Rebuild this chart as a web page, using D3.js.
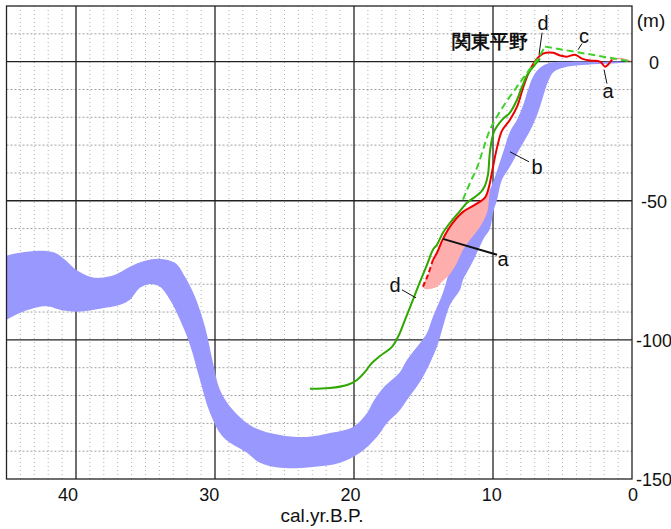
<!DOCTYPE html>
<html>
<head>
<meta charset="utf-8">
<script src="https://cdn.jsdelivr.net/npm/d3@7"></script>
<style>
  html, body { margin: 0; padding: 0; background: #fff; }
  svg { display: block; }
  text { font-family: "Liberation Sans", Arial, sans-serif; fill: #111; }
</style>
</head>
<body>
<svg id="chart" width="671" height="529"></svg>
<script>
// ---- data: [age (kyr BP), sea level (m)] ----

// b: wide band, upper / left edge and lower / right edge
const bandUpper = [
  [46, -72], [45.0, -69.8], [44.03, -68.7], [42.59, -68.0], [41.51, -68.7], [40.79, -71.2],
  [40.0, -74.8], [38.99, -77.3], [38.27, -77.7], [37.19, -76.6], [36.12, -73.7],
  [35.04, -71.6], [33.96, -70.9], [32.88, -72.3], [32.16, -77.3], [31.44, -84.5],
  [30.72, -95.3], [30.14, -108.3], [29.64, -118.0], [28.71, -125.2], [27.27, -131.3],
  [25.32, -134.2], [23.38, -134.9], [21.73, -133.5], [20.07, -131.3], [19.06, -126.3],
  [18.63, -122.3], [17.91, -117.3], [16.69, -111.5], [16.19, -107.2], [15.25, -101.1],
  [14.75, -97.5], [14.32, -91.7], [13.60, -83.1], [12.95, -72.3], [12.16, -64.0],
  [11.51, -58.6], [10.86, -53.2], [10.36, -47.8], [9.93, -42.4], [9.57, -37.1],
  [9.21, -31.7], [8.78, -25.2], [8.27, -20.9], [7.84, -15.8], [7.48, -10.1],
  [7.12, -5.4], [6.62, -2.2], [5.90, -0.4], [4.46, 0], [2.30, 0], [0.72, 0]
];
const bandLower = [
  [46, -96], [45.0, -92.8], [44.03, -90.3], [42.59, -88.1], [41.87, -88.1], [41.15, -89.2],
  [40.0, -89.9], [38.27, -88.8], [36.83, -87.4], [36.12, -85.6], [35.40, -81.3],
  [34.68, -79.9], [33.96, -80.9], [33.24, -85.6], [32.52, -92.8], [31.80, -101.8],
  [31.08, -114.4], [30.36, -126.3], [29.42, -134.9], [27.70, -140.6], [26.76, -144.2],
  [25.32, -146.0], [22.95, -145.7], [21.01, -144.2], [19.57, -140.6], [18.35, -134.9],
  [17.63, -129.9], [16.69, -125.2], [16.19, -121.6], [15.04, -113.3], [14.03, -102.5],
  [13.60, -95.3], [13.09, -87.4], [12.37, -82.0], [12.16, -78.4], [11.65, -73.7],
  [11.15, -68.7], [10.72, -64.0], [10.22, -60.1], [10.0, -54.3], [9.71, -49.6],
  [9.35, -42.4], [8.70, -37.1], [8.20, -32.4], [7.70, -28.1], [7.19, -23.4],
  [6.76, -18.3], [6.40, -12.6], [6.04, -7.2], [5.62, -3.6], [4.68, -1.8],
  [3.24, -1.1], [1.58, -0.7], [0.72, -0.4]
];
const bandCap = [[0.5, -0.2]];

// a: red curve (dashed at its lowest part) and its pink error area
const redDashed = [[15.04, -80.9], [14.68, -76.6], [14.32, -71.2]];
const redSolid = [
  [14.32, -71.2], [14.03, -68.7], [13.60, -63.7], [12.95, -58.3], [12.16, -54.0],
  [11.29, -51.4], [10.58, -48.9], [10.29, -45.0], [10.07, -39.6], [9.71, -30.9],
  [9.35, -24.8], [8.78, -20.9], [8.27, -16.2], [7.84, -9.4], [7.34, -2.9],
  [6.83, 1.1], [6.40, 2.9], [5.68, 3.2], [5.18, 2.2], [4.68, 1.8], [4.10, 2.5],
  [3.60, 1.1], [3.02, 0.4], [2.30, 0], [1.94, -1.8], [1.73, -1.1], [1.44, 0.7]
];
const redTail = [[1.44, 0.7], [0.86, 1.1], [0.07, 0]];
const pinkRight = [
  [10.22, -44.2], [10.29, -49.6], [10.43, -54.3], [10.94, -59.4], [11.65, -64.0],
  [12.16, -67.6], [12.59, -72.3], [13.09, -76.3], [13.67, -79.1], [14.17, -81.3],
  [14.89, -81.7]
];

// d: green curve
const greenD = [
  [23.17, -117.6], [21.73, -117.3], [20.50, -116.2], [19.78, -114.4], [19.21, -111.5],
  [18.71, -108.3], [18.13, -105.8], [17.27, -102.5], [16.83, -98.9], [16.33, -92.8],
  [15.76, -85.6], [15.25, -79.1], [14.75, -73.0], [14.32, -67.6], [14.03, -65.8],
  [13.60, -61.5], [13.09, -57.9], [12.37, -53.6], [11.87, -50.7], [11.29, -48.6],
  [10.86, -46.8], [10.58, -44.6], [10.36, -40.6], [10.22, -32.4], [9.93, -25.2],
  [9.35, -20.9], [8.78, -18.3], [8.27, -13.7], [7.91, -9.0], [7.48, -4.3],
  [6.98, -1.1], [6.62, 1.1]
];

// c: green dashed curve (curved rise, then straight fall to the present)
const greenC = [
  [12.16, -49.6], [11.65, -43.5], [11.15, -38.1], [10.72, -31.7], [10.22, -24.5],
  [9.28, -16.2], [8.27, -9.0], [7.55, -4.0], [6.83, 0.7], [6.26, 5.4]
];
const greenCTail = [[6.26, 5.4], [0, 0]];

// axes
const xTicks = [40, 30, 20, 10, 0];
const yTicks = [0, -50, -100, -150];

// curve labels: text, label position, leader line from -> to
const curveLabels = [
  { text: "d", at: [6.40, 11.5], line: [[6.69, 2.5], [6.47, 10.4]], w: 1 },
  { text: "c", at: [3.45, 6.8], line: [[3.88, 4.3], [3.60, 6.5]], w: 1 },
  { text: "a", at: [1.73, -12.9], line: [[2.01, -2.9], [1.80, -7.9]], w: 1 },
  { text: "b", at: [6.83, -40.3], line: [[8.78, -32.4], [7.41, -36.0]], w: 1 },
  { text: "a", at: [9.28, -73.4], line: [[13.60, -63.7], [9.71, -69.4]], w: 2 },
  { text: "d", at: [17.05, -82.7], line: [[16.55, -82.0], [15.54, -84.9]], w: 1 }
];
const regionTitle = "関東平野";
const regionAt = [10.22, 7.2];

// ---- drawing ----
const svg = d3.select("#chart");
const plotLeft = 6.5, plotRight = 632, plotTop = 6, plotBottom = 479;

const x = d3.scaleLinear().domain([45, 0]).range([plotLeft, plotRight]);
const y = d3.scaleLinear().domain([20, -150]).range([plotTop, plotBottom]);
// the printed year labels sit on a slightly wider spacing than the grid
const xLabel = d3.scaleLinear().domain([40, 0]).range([68, 633]);

svg.append("defs").append("clipPath").attr("id", "plot-clip")
    .append("rect")
    .attr("x", plotLeft).attr("y", plotTop)
    .attr("width", plotRight - plotLeft).attr("height", plotBottom - plotTop);

// minor grid
const grid = svg.append("g").attr("class", "grid");
grid.selectAll("line.vminor")
    .data(d3.range(1, 45).filter(d => d % 10 !== 0))
    .join("line")
    .attr("x1", d => x(d)).attr("x2", d => x(d))
    .attr("y1", plotTop).attr("y2", plotBottom)
    .attr("stroke", "#b0b0b0").attr("stroke-width", 1)
    .attr("stroke-dasharray", "1,3");
grid.selectAll("line.hminor")
    .data(d3.range(-140, 20, 10).filter(d => d % 50 !== 0))
    .join("line")
    .attr("x1", plotLeft).attr("x2", plotRight)
    .attr("y1", d => y(d)).attr("y2", d => y(d))
    .attr("stroke", "#a0a0a0").attr("stroke-width", 1)
    .attr("stroke-dasharray", "2,2");

// major grid
grid.selectAll("line.vmajor")
    .data(xTicks.filter(d => d > 0))
    .join("line")
    .attr("x1", d => x(d)).attr("x2", d => x(d))
    .attr("y1", plotTop).attr("y2", plotBottom)
    .attr("stroke", "#222").attr("stroke-width", 1.3);
grid.selectAll("line.hmajor")
    .data(yTicks.filter(d => d > -150))
    .join("line")
    .attr("x1", plotLeft).attr("x2", plotRight)
    .attr("y1", d => y(d)).attr("y2", d => y(d))
    .attr("stroke", "#222").attr("stroke-width", 1.3);

const plot = svg.append("g").attr("clip-path", "url(#plot-clip)");

const line = d3.line().x(d => x(d[0])).y(d => y(d[1]));
const smooth = d3.line().x(d => x(d[0])).y(d => y(d[1])).curve(d3.curveCatmullRom.alpha(0.5));
const smoothClosed = d3.line().x(d => x(d[0])).y(d => y(d[1])).curve(d3.curveCatmullRomClosed.alpha(0.5));

// b band
plot.append("path")
    .attr("d", smoothClosed(bandUpper.concat(bandCap, bandLower.slice().reverse())))
    .attr("fill", "#9898ff");

// a error area: red curve on the left, pinkRight back down
const pinkLeft = redDashed.concat(redSolid.filter(d => d[1] <= -44.2).slice(1));
plot.append("path")
    .attr("d", smoothClosed(pinkLeft.concat(pinkRight)))
    .attr("fill", "#ffaeae");

// a red
plot.append("path").attr("d", smooth(redSolid))
    .attr("fill", "none").attr("stroke", "#ee0000").attr("stroke-width", 2);
plot.append("path").attr("d", smooth(redDashed))
    .attr("fill", "none").attr("stroke", "#ee0000").attr("stroke-width", 2)
    .attr("stroke-dasharray", "5,3");
plot.append("path").attr("d", smooth(redTail))
    .attr("fill", "none").attr("stroke", "#f06060").attr("stroke-width", 1.5)
    .attr("opacity", 0.6);

// d green
plot.append("path").attr("d", smooth(greenD))
    .attr("fill", "none").attr("stroke", "#2ea800").attr("stroke-width", 2);

// c green dashed
[smooth(greenC), line(greenCTail)].forEach(p => {
    plot.append("path").attr("d", p)
        .attr("fill", "none").attr("stroke", "#3fd12a").attr("stroke-width", 2)
        .attr("stroke-dasharray", "7,4");
});

// frame
svg.append("rect")
    .attr("x", plotLeft).attr("y", plotTop)
    .attr("width", plotRight - plotLeft).attr("height", plotBottom - plotTop)
    .attr("fill", "none").attr("stroke", "#222").attr("stroke-width", 1.3);

// tick labels
svg.selectAll("text.xt")
    .data(xTicks)
    .join("text")
    .attr("x", d => xLabel(d))
    .attr("y", 501)
    .attr("text-anchor", "middle")
    .attr("font-size", 18)
    .text(d => d);

svg.selectAll("text.yt")
    .data(yTicks)
    .join("text")
    .attr("x", 654)
    .attr("y", d => y(d) + 7)
    .attr("text-anchor", "middle")
    .attr("font-size", 18)
    .text(d => d);

svg.append("text")
    .attr("x", 651).attr("y", 27)
    .attr("text-anchor", "middle")
    .attr("font-size", 19)
    .text("(m)");

svg.append("text")
    .attr("x", 322).attr("y", 522)
    .attr("text-anchor", "middle")
    .attr("font-size", 19)
    .text("cal.yr.B.P.");

// annotations
const notes = svg.append("g").attr("class", "notes");
notes.selectAll("line")
    .data(curveLabels)
    .join("line")
    .attr("x1", d => x(d.line[0][0])).attr("y1", d => y(d.line[0][1]))
    .attr("x2", d => x(d.line[1][0])).attr("y2", d => y(d.line[1][1]))
    .attr("stroke", "#111").attr("stroke-width", d => d.w);
notes.selectAll("text")
    .data(curveLabels)
    .join("text")
    .attr("x", d => x(d.at[0])).attr("y", d => y(d.at[1]))
    .attr("text-anchor", "middle")
    .attr("font-size", 20)
    .text(d => d.text);

svg.append("text")
    .attr("x", x(regionAt[0])).attr("y", y(regionAt[1]))
    .attr("text-anchor", "middle")
    .attr("dominant-baseline", "central")
    .attr("font-family", "'Noto Sans CJK JP', sans-serif")
    .attr("font-weight", 700)
    .attr("font-size", 18.5)
    .text(regionTitle);
</script>
</body>
</html>
